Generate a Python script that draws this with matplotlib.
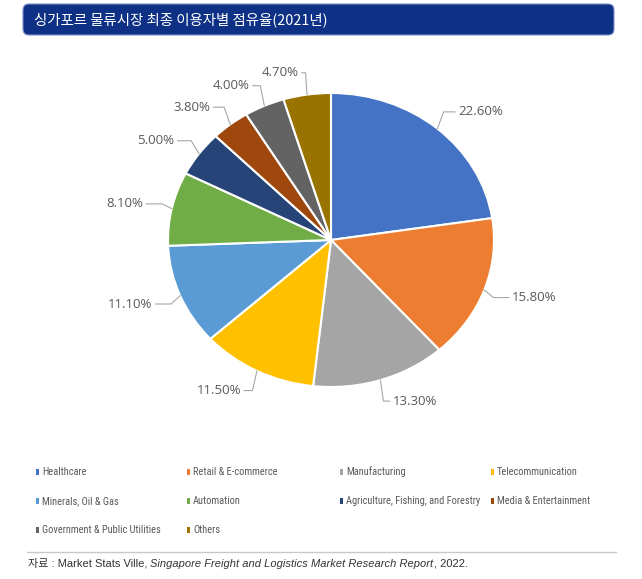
import numpy as np
import matplotlib
matplotlib.use('Agg')
import matplotlib.pyplot as plt
from matplotlib.patches import FancyBboxPatch, Rectangle
from matplotlib import font_manager
from matplotlib.font_manager import FontProperties

title = '싱가포르 물류시장 최종 이용자별 점유율(2021년)'
categories = ['Healthcare', 'Retail & E-commerce', 'Manufacturing', 'Telecommunication',
              'Minerals, Oil & Gas', 'Automation', 'Agriculture, Fishing, and Forestry',
              'Media & Entertainment', 'Government & Public Utilities', 'Others']
shares = [22.6, 15.8, 13.3, 11.5, 11.1, 8.1, 5.0, 3.8, 4.0, 4.7]
colors = ['#4472C4', '#ED7D31', '#A5A5A5', '#FFC000', '#5B9BD5',
          '#70AD47', '#264478', '#9E480E', '#636363', '#997300']
source_pre = '자료 : Market Stats Ville, '
source_title = 'Singapore Freight and Logistics Market Research Report'
source_post = ', 2022.'


def narrow_font_file():
    # look for a condensed/narrow face among what is installed
    prefs = ['LiberationSansNarrow-Regular', 'NotoSans-Condensed.', 'RobotoCondensed-Regular',
             'OpenSans-Condensed', 'NotoSans-SemiCondensed.', 'DejaVuSansCondensed.']
    files = [f.fname for f in font_manager.fontManager.ttflist]
    for p in prefs:
        for fn in files:
            if p in fn.split('/')[-1]:
                return fn
    for f in font_manager.fontManager.ttflist:
        base = f.fname.split('/')[-1]
        if f.style == 'normal' and ('Narrow' in base or 'Condensed' in base) and 'Bold' not in base:
            return f.fname
    return None


W, H = 642, 579
fig = plt.figure(figsize=(W / 100, H / 100), dpi=100)
renderer = fig.canvas.get_renderer()

# background axes in pixel coords (y down)
bg = fig.add_axes([0, 0, 1, 1])
bg.set_xlim(0, W)
bg.set_ylim(H, 0)
bg.axis('off')

# title bar
bar = FancyBboxPatch((29, 10), 579, 19, boxstyle='round,pad=6',
                     fc='#0E3186', ec='#7D91C8', lw=0.8)
bg.add_patch(bar)
bg.text(34, 20, title, color='white', fontsize=10.4, family=['Noto Sans CJK KR'],
        weight='medium', va='center', ha='left')

# pie (slightly stretched horizontally like the original)
cx, cy, rx, ry = 331, 240, 163, 147
lim = 1.3
ax = fig.add_axes([(cx - lim * rx) / W, (H - cy - lim * ry) / H,
                   2 * lim * rx / W, 2 * lim * ry / H])
wedges, _ = ax.pie(shares, colors=colors, startangle=90, counterclock=False,
                   wedgeprops=dict(edgecolor='white', linewidth=1.5))
ax.set_aspect('auto')
ax.set_xlim(-lim, lim)
ax.set_ylim(-lim, lim)
ax.axis('off')

for w, v in zip(wedges, shares):
    ang = np.deg2rad((w.theta1 + w.theta2) / 2)
    c, s = np.cos(ang), np.sin(ang)
    side = 1 if c >= 0 else -1
    lx, ly = 1.15 * c + side * 0.03, 1.15 * s
    p1x = 1.06 * c
    p2x = lx - side * 0.02
    xs = [c, p1x]
    ys = [s, ly]
    if side * (p2x - p1x) > 0:
        xs.append(p2x)
        ys.append(ly)
    ax.plot(xs, ys, color='#A6A6A6', lw=0.8, clip_on=False)
    ax.text(lx, ly, f'{v:.2f}%', ha='left' if side > 0 else 'right', va='center',
            fontsize=9.5, color='#595959', family=['Open Sans', 'DejaVu Sans'])

# legend font: a narrow face, sized so the longest entry fits its column
nf = narrow_font_file()
leg_fp = FontProperties(fname=nf) if nf else FontProperties(family='DejaVu Sans')
leg_fp.set_size(8.5)
probe = bg.text(0, 0, categories[6], fontproperties=leg_fp)
wpx = probe.get_window_extent(renderer).width
probe.remove()
leg_size = min(8.5, 8.5 * 134 / wpx)
leg_fp.set_size(leg_size)

# legend, laid out row by row in four columns
col_x = [37, 188, 341, 492]
row_y = [472, 501, 530]
for i, (name, col) in enumerate(zip(categories, colors)):
    x = col_x[i % 4]
    y = row_y[i // 4]
    bg.add_patch(Rectangle((x - 1.5, y - 3), 3.5, 6, fc=col, ec='none'))
    bg.text(x + 5, y, name, fontproperties=leg_fp, color='#595959',
            va='center', ha='left')

# rule and source
bg.plot([27, 616], [552, 552], color='#C8C8C8', lw=1)
src_fam = ['Liberation Sans', 'Noto Sans CJK KR']
t1 = bg.text(28, 567, source_pre, fontsize=8, color='#333333', family=src_fam,
             va='baseline', ha='left')
t2 = bg.annotate(source_title, xy=(1, 567), xycoords=(t1, 'data'), fontsize=8,
                 color='#333333', family=src_fam, style='italic', va='baseline', ha='left')
bg.annotate(source_post, xy=(1, 567), xycoords=(t2, 'data'), fontsize=8,
            color='#333333', family=src_fam, va='baseline', ha='left')

fig.savefig('out.png', dpi=100)
